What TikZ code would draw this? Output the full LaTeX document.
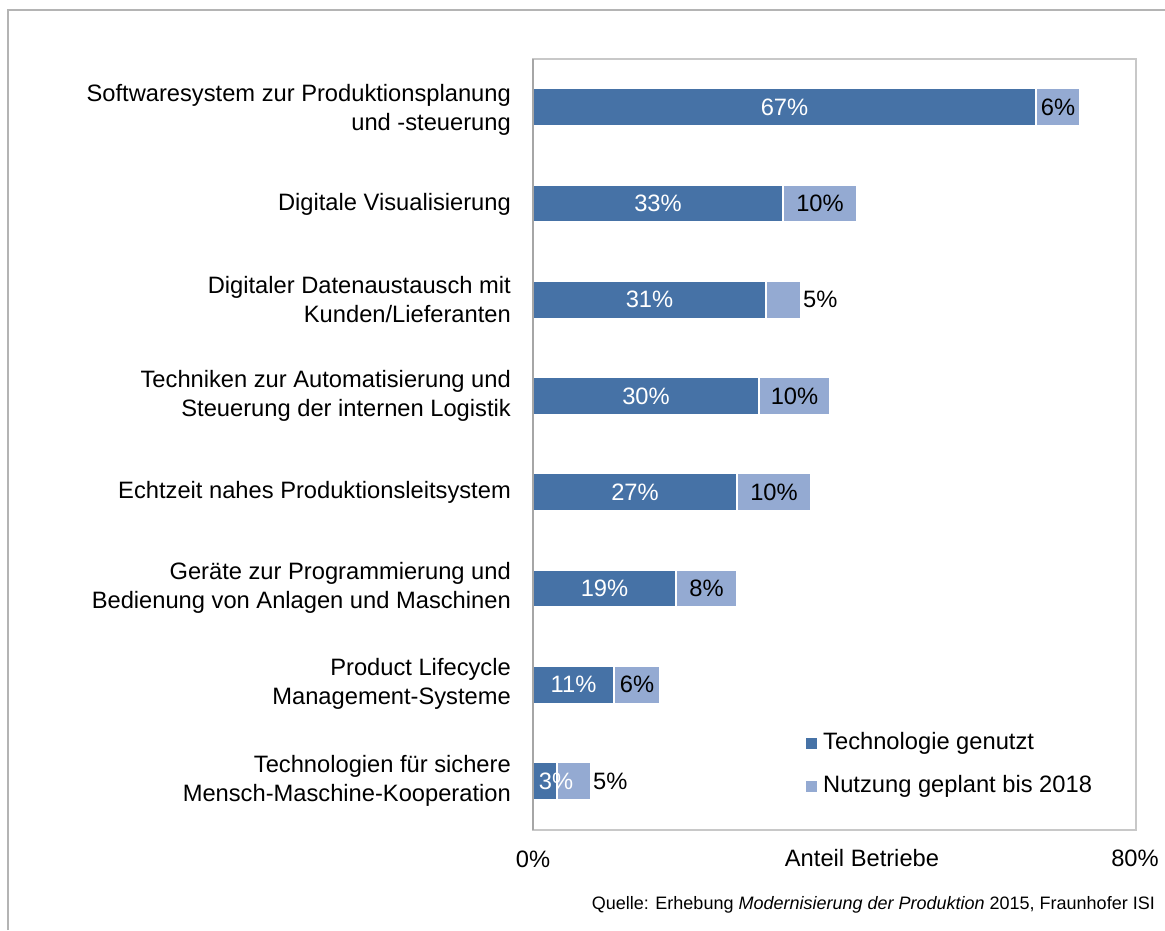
\documentclass[tikz,border=0pt]{standalone}
\usepackage{fontspec}
\setmainfont{Liberation Sans}
\definecolor{darkbar}{HTML}{4672A6}
\definecolor{lightbar}{HTML}{94AAD2}
\definecolor{framegray}{HTML}{C8C8C8}
\definecolor{axisgray}{HTML}{A6A6A6}
\definecolor{outergray}{HTML}{B4B4B4}
\begin{document}
\begin{tikzpicture}[x=1pt,y=-1pt,
  bigfont/.style={font=\fontsize{23.7}{29}\selectfont},
  lbl/.style={bigfont, inner sep=0pt, anchor=east, align=right},
  seg/.style={bigfont, draw=white, line width=1.2pt, minimum height=37pt, anchor=west, inner sep=0pt, outer sep=0pt},
  dseg/.style={seg, fill=darkbar, text=white},
  lseg/.style={seg, fill=lightbar, text=black},
  txt/.style={bigfont, inner sep=0pt},
  mark box/.style={inner sep=0pt, minimum size=12pt, draw=white, line width=0.6pt}
]
\useasboundingbox (0,0) rectangle (1165,930);
% outer frame
\draw[outergray, line width=2pt] (8,930) -- (8,10) -- (1165,10);
% plot frame
\draw[framegray, line width=1.5pt] (533,59) rectangle (1136,830);

% bars
\node[dseg, minimum width=503pt] (d1) at (533,107.1) {67\%};
\node[lseg, minimum width=44pt] (l1) at (d1.east) {6\%};
\node[dseg, minimum width=250pt] (d2) at (533,203.4) {33\%};
\node[lseg, minimum width=74pt] (l2) at (d2.east) {10\%};
\node[dseg, minimum width=233pt] (d3) at (533,299.6) {31\%};
\node[lseg, minimum width=35pt] (l3) at (d3.east) {};
\node[txt, anchor=west] (v3) at (803,299.6) {5\%};
\node[dseg, minimum width=226pt] (d4) at (533,395.9) {30\%};
\node[lseg, minimum width=71pt] (l4) at (d4.east) {10\%};
\node[dseg, minimum width=204pt] (d5) at (533,492.1) {27\%};
\node[lseg, minimum width=74pt] (l5) at (d5.east) {10\%};
\node[dseg, minimum width=143pt] (d6) at (533,588.4) {19\%};
\node[lseg, minimum width=61pt] (l6) at (d6.east) {8\%};
\node[dseg, minimum width=81pt] (d7) at (533,684.6) {11\%};
\node[lseg, minimum width=46pt] (l7) at (d7.east) {6\%};
\node[dseg, minimum width=24pt] (d8) at (533,780.9) {};
\node[lseg, minimum width=34pt] (l8) at (d8.east) {};
\node[txt, text=white] (v8a) at (556,780.9) {3\%};
\node[txt, anchor=west] (v8b) at (593,780.9) {5\%};

% left axis
\draw[axisgray, line width=2pt] (533,59) -- (533,830);

% category labels
\node[lbl] (c1) at (511,110) {Softwaresystem zur Produktionsplanung\\und -steuerung};
\node[lbl] (c2) at (511,204) {Digitale Visualisierung};
\node[lbl] (c3) at (511,300) {Digitaler Datenaustausch mit\\Kunden/Lieferanten};
\node[lbl] (c4) at (511,396) {Techniken zur Automatisierung und\\Steuerung der internen Logistik};
\node[lbl] (c5) at (511,492) {Echtzeit nahes Produktionsleitsystem};
\node[lbl] (c6) at (511,588) {Geräte zur Programmierung und\\Bedienung von Anlagen und Maschinen};
\node[lbl] (c7) at (511,684) {Product Lifecycle\\Management-Systeme};
\node[lbl] (c8) at (511,781) {Technologien für sichere\\Mensch-Maschine-Kooperation};

% legend
\node[mark box, fill=darkbar] (m1) at (811,743) {};
\node[txt, anchor=west] (t1) at (823,743) {Technologie genutzt};
\node[mark box, fill=lightbar] (m2) at (811,786) {};
\node[txt, anchor=west] (t2) at (823,786) {Nutzung geplant bis 2018};

% axis labels
\node[txt] (x0) at (533,859) {0\%};
\node[txt] (x80) at (1135,858) {80\%};
\node[txt] (xt) at (862,858) {Anteil Betriebe};

% source
\node[inner sep=0pt, anchor=east, font=\fontsize{18}{20}\selectfont] (src) at (1155,905) {Quelle: Erhebung \textit{Modernisierung der Produktion} 2015, Fraunhofer ISI};
\end{tikzpicture}
\end{document}
